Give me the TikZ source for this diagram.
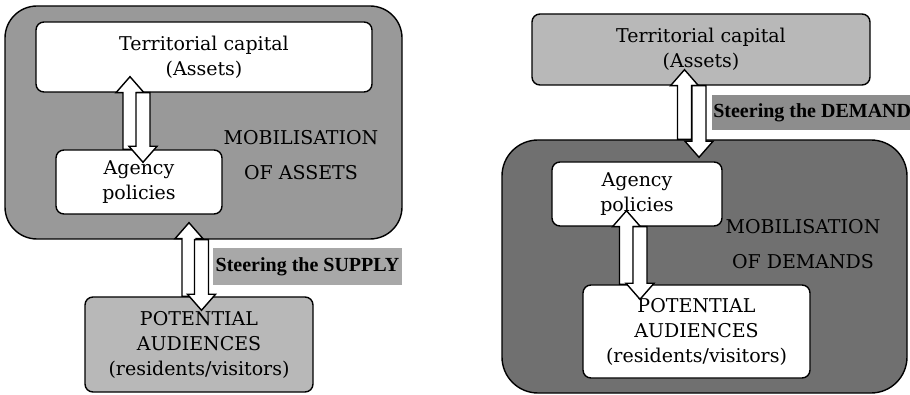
\documentclass[tikz,border=0pt]{standalone}
\usepackage{fontspec}
\setmainfont{DejaVu Serif}
\newfontfamily\steerfont{Liberation Serif}
\usetikzlibrary{calc}
\definecolor{midgray}{gray}{0.60}
\definecolor{lightgray}{gray}{0.72}
\definecolor{darkgray}{gray}{0.44}
\definecolor{labelgray}{gray}{0.66}
\def\fatarrow(#1)(#2){\draw[fatarrow] let \p1=(#1), \p2=(#2), \n1={16*sign(\y2-\y1)} in (\x1-7pt,\y1) -- ({\x1-7pt},{\y2-(\n1)*1pt}) -- ({\x1-14pt},{\y2-(\n1)*1pt}) -- (\x1,\y2) -- ({\x1+14pt},{\y2-(\n1)*1pt}) -- ({\x1+7pt},{\y2-(\n1)*1pt}) -- (\x1+7pt,\y1) -- cycle;}
\tikzset{
	box/.style={draw, line width=1.4pt, rounded corners=8pt, fill=white, align=center, inner sep=0pt, font=\fontsize{19}{25}\selectfont},
	bigbox/.style={box, rounded corners=32pt},
	steerlabel/.style={fill=labelgray, inner sep=0pt, font=\steerfont\bfseries\fontsize{20}{24}\selectfont},
	mobtext/.style={align=center, font=\fontsize{19}{35}\selectfont},
	fatarrow/.style={draw, line width=1.4pt, fill=white, line join=miter}
}
\begin{document}
\begin{tikzpicture}[x=1pt, y=-1pt]
			%%%%% START %%%%%
			\useasboundingbox (0, 0) rectangle (910, 395);
			
			% supply side
			\node[bigbox, fill=midgray, minimum width=397, minimum height=233] (mobA) at (203.5, 122.5) {};
			\node[box, minimum width=336, minimum height=70] (capA) at (204, 57) {Territorial capital\\(Assets)};
			\node[box, minimum width=166, minimum height=64] (agA) at (139, 182) {Agency\\policies};
			\node[mobtext] (mobtextA) at (301, 155) {MOBILISATION\\OF ASSETS};
			\node[box, fill=lightgray, minimum width=228, minimum height=95] (audA) at (199, 344.5) {POTENTIAL\\AUDIENCES\\(residents/visitors)};
			\node[steerlabel, minimum width=189, minimum height=37] (supply) at (307.5, 266.5) {Steering the SUPPLY};
			
			\fatarrow([xshift=-9pt]agA.north)([yshift=16pt]capA.south)
			\fatarrow([xshift=-61pt]capA.south)([yshift=-13pt]agA.north)
			\fatarrow([xshift=-10pt]audA.north)([yshift=17pt]mobA.south)
			\fatarrow([xshift=-2pt]mobA.south)([yshift=-14pt]audA.north)
			
			% demand side
			\node[box, fill=lightgray, minimum width=338, minimum height=71] (capB) at (701, 49.5) {Territorial capital\\(Assets)};
			\node[steerlabel, fill=darkgray!80, minimum width=200, minimum height=35, anchor=west] (demand) at (712, 112.5) {Steering the DEMAND};
			\node[bigbox, fill=darkgray, rounded corners=36pt, minimum width=405, minimum height=253] (mobB) at (704.5, 266.5) {};
			\node[box, minimum width=170, minimum height=64] (agB) at (637, 194) {Agency\\policies};
			\node[mobtext] (mobtextB) at (803, 244.5) {MOBILISATION\\OF DEMANDS};
			\node[box, minimum width=227, minimum height=93] (audB) at (696.5, 331.5) {POTENTIAL\\AUDIENCES\\(residents/visitors)};
			
			\fatarrow([xshift=-20pt]mobB.north)([yshift=16pt]capB.south)
			\fatarrow([xshift=-2pt]capB.south)([yshift=-18pt]mobB.north)
			\fatarrow([xshift=-70pt]audB.north)([yshift=16pt]agB.south)
			\fatarrow([xshift=3pt]agB.south)([yshift=-15pt]audB.north)
			%%%%% END %%%%%
\end{tikzpicture}
\end{document}
